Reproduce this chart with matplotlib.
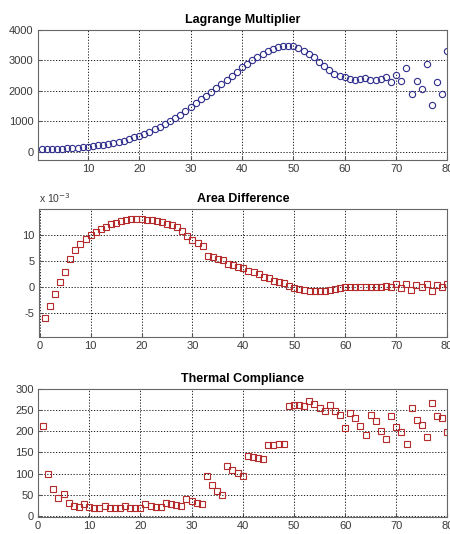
import matplotlib
matplotlib.use("Agg")
import matplotlib.pyplot as plt

plt.rcParams['font.family'] = ['Liberation Sans', 'DejaVu Sans']
plt.rcParams['axes.unicode_minus'] = False

# iteration index shared by all three panels
iterations = list(range(1, 81))

lagrange = [90, 90, 95, 100, 105, 110, 120, 130, 145, 165,
            185, 210, 235, 265, 295, 330, 370, 415, 470, 530,
            595, 665, 740, 820, 900, 1000, 1100, 1220, 1350, 1480,
            1600, 1720, 1840, 1960, 2080, 2210, 2350, 2490, 2630, 2770,
            2890, 3010, 3120, 3220, 3310, 3390, 3440, 3480, 3490, 3460,
            3400, 3320, 3220, 3100, 2960, 2820, 2680, 2560, 2480, 2440,
            2400, 2370, 2380, 2420, 2350, 2370, 2390, 2460, 2290, 2530,
            2310, 2750, 1890, 2310, 2070, 2890, 1530, 2290, 1910, 3320]

# area difference, in units of 1e-3
area_diff_e3 = [-5.9, -3.7, -1.35, 0.9, 2.9, 5.35, 7.0, 8.3, 9.2, 10.0,
                10.6, 11.1, 11.6, 12.0, 12.3, 12.6, 12.8, 13.0, 13.1, 13.1,
                12.9, 12.8, 12.7, 12.4, 12.1, 11.9, 11.6, 10.8, 9.7, 9.1,
                8.5, 7.8, 6.0, 5.7, 5.4, 5.2, 4.45, 4.3, 3.8, 3.7,
                3.0, 2.8, 2.5, 2.0, 1.7, 1.2, 1.0, 0.8, 0.25, -0.2,
                -0.45, -0.6, -0.7, -0.75, -0.75, -0.7, -0.6, -0.4, -0.2, -0.05,
                0.0, 0.0, 0.05, 0.0, 0.0, 0.05, 0.0, 0.1, -0.1, 0.5,
                -0.2, 0.5, -0.6, 0.4, -0.1, 0.6, -0.7, 0.4, -0.1, 0.6]

compliance = [214, 100, 63, 43, 51, 29, 23, 21, 27, 21,
              18, 18, 23, 19, 19, 17, 23, 19, 17, 17,
              27, 23, 21, 21, 31, 27, 25, 23, 39, 35,
              29, 27, 93, 73, 59, 48, 119, 109, 101, 95,
              141, 139, 137, 135, 168, 168, 170, 171, 260, 262,
              262, 260, 272, 265, 256, 248, 262, 248, 238, 208,
              244, 232, 214, 192, 238, 224, 202, 183, 236, 211,
              198, 171, 256, 228, 215, 186, 268, 236, 232, 199]

blue = '#2e2e8c'
red = '#b52a2a'

fig = plt.figure(figsize=(4.5, 5.34), dpi=100)
fig.patch.set_facecolor('white')


def style_axes(ax, title):
    ax.set_title(title, fontsize=9, fontweight='bold', pad=5)
    ax.grid(True, color='black', linestyle=(0, (1.5, 2)), linewidth=0.6)
    ax.tick_params(direction='in', length=3, labelsize=8, labelcolor='#3a3a3a',
                   color='#555555', pad=3)
    for s in ax.spines.values():
        s.set_color('#666666')
        s.set_linewidth(0.8)


# Lagrange multiplier
ax1 = fig.add_axes([0.0838, 0.7004, 0.9106, 0.2434])
ax1.plot(iterations, lagrange, linestyle='none', marker='o', ms=4.5,
         mfc='none', mec=blue, mew=0.8)
ax1.set_xlim(0.25, 80)
ax1.set_ylim(-270, 4000)
ax1.set_xticks(range(10, 81, 10))
ax1.set_yticks(range(0, 4001, 1000))
style_axes(ax1, 'Lagrange Multiplier')

# Area difference
ax2 = fig.add_axes([0.086, 0.3689, 0.9073, 0.2391])
ax2.plot(iterations, area_diff_e3, linestyle='none', marker='s', ms=4.5,
         mfc='none', mec=red, mew=0.8)
ax2.set_xlim(-0.2, 80)
ax2.set_ylim(-9.6, 14.9)
ax2.set_xticks(range(0, 81, 10))
ax2.set_yticks([-5, 0, 5, 10])
style_axes(ax2, 'Area Difference')
ax2.text(0.0, 1.03, r'x 10$^{-3}$', transform=ax2.transAxes, fontsize=7.5,
         color='#3a3a3a', ha='left', va='bottom')

# Thermal compliance
ax3 = fig.add_axes([0.0844, 0.0324, 0.91, 0.2386])
ax3.plot(iterations, compliance, linestyle='none', marker='s', ms=4.5,
         mfc='none', mec=red, mew=0.8)
ax3.set_xlim(0, 80)
ax3.set_ylim(-2.5, 300)
ax3.set_xticks(range(0, 81, 10))
ax3.set_yticks(range(0, 301, 50))
style_axes(ax3, 'Thermal Compliance')

fig.savefig('out.png', dpi=100)
